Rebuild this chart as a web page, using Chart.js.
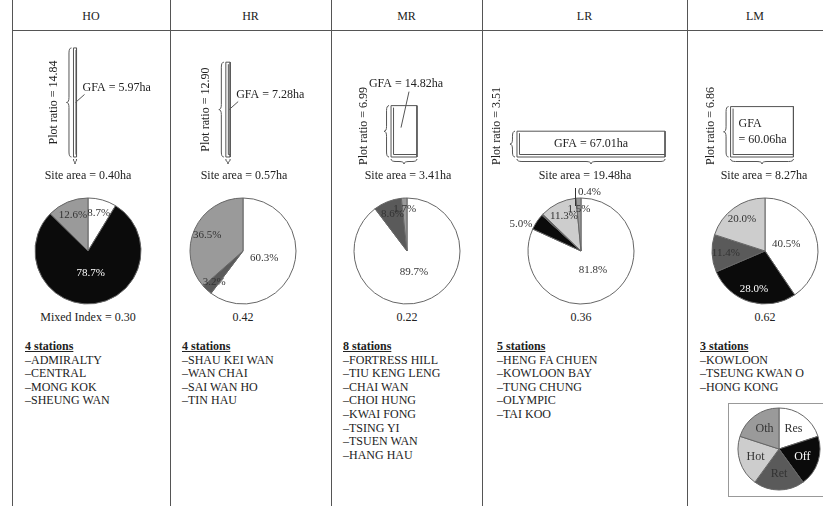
<!DOCTYPE html>
<html><head><meta charset="utf-8">
<script src="https://cdn.jsdelivr.net/npm/chart.js@4/dist/chart.umd.min.js"></script>
<style>
html,body{margin:0;padding:0;background:#fff;}
#page{position:relative;width:823px;height:506px;overflow:hidden;font-family:'Liberation Serif','Times New Roman',serif;color:#222;background:#fff;}
.vline{position:absolute;top:0;width:1px;height:506px;background:#555;}
.hline{position:absolute;left:12px;right:0;top:30px;height:1px;background:#555;}
.hdr{position:absolute;top:9px;width:120px;margin-left:-60px;text-align:center;font-size:12px;}
.idx{position:absolute;top:310px;width:160px;margin-left:-80px;text-align:center;font-size:12px;}
.list{position:absolute;top:340px;font-size:12px;line-height:13.6px;white-space:nowrap;}
.list .n{font-weight:bold;text-decoration:underline;}
canvas{position:absolute;}
.legbox{position:absolute;left:728px;top:403px;width:120px;height:92px;border:1px solid #999;}
</style></head><body><div id="page"></div>
<script>
// ---------- data ----------
const groups = ['HO','HR','MR','LR','LM'];
const plotRatio = [14.84, 12.90, 6.99, 3.51, 6.86];
const gfa = [5.97, 7.28, 14.82, 67.01, 60.06];
const siteArea = [0.40, 0.57, 3.41, 19.48, 8.27];
const mixedIndex = [0.30, 0.42, 0.22, 0.36, 0.62];
const useTypes = ['Res','Off','Ret','Hot','Oth'];
const resShare = [8.7, 60.3, 89.7, 81.8, 40.5];
const offShare = [78.7, 0, 0, 5.0, 28.0];
const retShare = [0, 3.2, 8.6, 0.4, 11.4];
const hotShare = [0, 0, 0, 11.3, 20.0];
const othShare = [12.6, 36.5, 1.7, 1.5, 0];
const legendShares = [20, 20, 20, 20, 20];
const stationsHO = ['ADMIRALTY','CENTRAL','MONG KOK','SHEUNG WAN'];
const stationsHR = ['SHAU KEI WAN','WAN CHAI','SAI WAN HO','TIN HAU'];
const stationsMR = ['FORTRESS HILL','TIU KENG LENG','CHAI WAN','CHOI HUNG','KWAI FONG','TSING YI','TSUEN WAN','HANG HAU'];
const stationsLR = ['HENG FA CHUEN','KOWLOON BAY','TUNG CHUNG','OLYMPIC','TAI KOO'];
const stationsLM = ['KOWLOON','TSEUNG KWAN O','HONG KONG'];
const stationLists = [stationsHO, stationsHR, stationsMR, stationsLR, stationsLM];

// ---------- layout / style ----------
const COLX = [12, 170, 331, 482, 687, 823];
const DIAG_CX = [75, 228, 404, 591, 762];
const SITE_CX = [88, 244, 408, 585, 764];
const PIE_CX = [88, 243, 407, 581, 765];
const PIE_CY = 251, PIE_R = 53;
const LIST_X = [25, 182, 343, 497, 700];
const USE_COLORS = ['#ffffff', '#0b0b0b', '#5a5a5a', '#cdcdcd', '#9a9a9a'];
const PX_HA = 7.6, PX_PR = 7.35, BASE = 157, DTOP = 31, DH = 170;
const FONT = '12px "Liberation Serif", serif';
const page = document.getElementById('page');

function el(cls, css, html){ const d=document.createElement('div'); d.className=cls; Object.assign(d.style, css); if(html!==undefined) d.innerHTML=html; page.appendChild(d); return d; }
function mkCanvas(l,t,w,h){ const c=document.createElement('canvas'); c.width=w; c.height=h; c.style.left=l+'px'; c.style.top=t+'px'; c.style.width=w+'px'; c.style.height=h+'px'; page.appendChild(c); return c; }

COLX.slice(0,5).forEach(x=>el('vline',{left:x+'px'}));
el('hline',{});
groups.forEach((g,i)=>{
  el('hdr',{left:((COLX[i]+COLX[i+1])/2)+'px'}, g);
  el('idx',{left:PIE_CX[i]+'px'}, (i===0?'Mixed Index = ':'') + mixedIndex[i].toFixed(2));
  const L = stationLists[i];
  el('list',{left:LIST_X[i]+'px'}, '<span class="n">'+L.length+' stations</span><br>' + L.map(s=>'–'+s).join('<br>'));
});
el('legbox',{});

function vBrace(ctx, x, y1, y2, d){
  const ym=(y1+y2)/2, h=d/2, k=Math.min(d,(ym-y1)/2);
  ctx.beginPath();
  ctx.moveTo(x, y1);
  ctx.quadraticCurveTo(x-h, y1, x-h, y1+k);
  ctx.lineTo(x-h, ym-k);
  ctx.quadraticCurveTo(x-h, ym, x-d, ym);
  ctx.quadraticCurveTo(x-h, ym, x-h, ym+k);
  ctx.lineTo(x-h, y2-k);
  ctx.quadraticCurveTo(x-h, y2, x, y2);
  ctx.stroke();
}
function hBrace(ctx, x1, x2, y, d){
  const xm=(x1+x2)/2, h=d/2, k=Math.min(d,(xm-x1)/2);
  ctx.beginPath();
  ctx.moveTo(x1, y);
  ctx.quadraticCurveTo(x1, y+h, x1+k, y+h);
  ctx.lineTo(xm-k, y+h);
  ctx.quadraticCurveTo(xm, y+h, xm, y+d);
  ctx.quadraticCurveTo(xm, y+h, xm+k, y+h);
  ctx.lineTo(x2-k, y+h);
  ctx.quadraticCurveTo(x2, y+h, x2, y);
  ctx.stroke();
}

const diagPlugin = {
  id:'diag',
  afterDatasetsDraw(chart, args, o){
    const i=o.i, ctx=chart.ctx, X=chart.scales.x, Y=chart.scales.y;
    const s=siteArea[i], p=plotRatio[i];
    const L=X.getPixelForValue(-s/2), R=X.getPixelForValue(s/2);
    const T=Y.getPixelForValue(p), B=Y.getPixelForValue(0);
    ctx.save();
    ctx.strokeStyle='#555'; ctx.lineWidth=1;
    // depth lines
    ctx.beginPath(); ctx.moveTo(L+2.5, T+2); ctx.lineTo(L+2.5, B-2.5); ctx.lineTo(R, B-2.5); ctx.stroke();
    vBrace(ctx, L-2, T, B, 5);
    hBrace(ctx, L, R, B+2, 5);
    ctx.font=FONT; ctx.fillStyle='#222'; ctx.textBaseline='middle';
    const gtxt='GFA = '+gfa[i].toFixed(2)+'ha';
    const w=R-L, gw=ctx.measureText(gtxt).width;
    const aboveMode = (w<=gw+10 && w<=50 && w>15);
    const ptxt='Plot ratio = '+p.toFixed(2);
    const tl=ctx.measureText(ptxt).width;
    const cy=Math.min((T+B)/2, B+8-tl/2);
    ctx.save(); ctx.translate(L-2-5-13-(aboveMode?7:0), cy); ctx.rotate(-Math.PI/2); ctx.textAlign='center'; ctx.fillText(ptxt,0,0); ctx.restore();
    if (w>gw+10){
      ctx.textAlign='center'; ctx.fillText(gtxt,(L+R)/2,(T+B)/2);
    } else if (w>50){
      ctx.textAlign='left';
      ctx.fillText('GFA', L+8, (T+B)/2-8);
      ctx.fillText('= '+gfa[i].toFixed(2)+'ha', L+8, (T+B)/2+8);
    } else if (aboveMode){
      ctx.textAlign='center'; ctx.fillText(gtxt,(L+R)/2+2, T-22);
      ctx.beginPath(); ctx.moveTo((L+R)/2+5, T-14); ctx.lineTo((L+R)/2-3, T+22); ctx.stroke();
    } else {
      ctx.textAlign='left'; const ty=(T+B)/2-15;
      ctx.fillText(gtxt, R+6, ty);
      ctx.beginPath(); ctx.moveTo(R+8, ty+7); ctx.lineTo(R-1, ty+15); ctx.stroke();
    }
    ctx.textAlign='center';
    ctx.fillText('Site area = '+s.toFixed(2)+'ha', o.siteX, 176-DTOP);
    ctx.restore();
  }
};

groups.forEach((g,i)=>{
  const left=COLX[i]+1, w=COLX[i+1]-COLX[i]-1;
  const cv=mkCanvas(left, DTOP, w, DH);
  const cx=DIAG_CX[i]-left;
  const s=siteArea[i], p=plotRatio[i];
  new Chart(cv,{
    type:'scatter',
    data:{datasets:[{data:[{x:-s/2,y:0},{x:-s/2,y:p},{x:s/2,y:p},{x:s/2,y:0},{x:-s/2,y:0}],
      showLine:true, borderColor:'#555', borderWidth:1, pointRadius:0, fill:false, tension:0}]},
    options:{responsive:false, animation:false, devicePixelRatio:1, events:[],
      layout:{padding:0},
      scales:{x:{type:'linear',display:false,min:-cx/PX_HA,max:(w-cx)/PX_HA},
              y:{type:'linear',display:false,min:-(DTOP+DH-BASE)/PX_PR,max:(BASE-DTOP)/PX_PR}},
      plugins:{legend:{display:false},tooltip:{enabled:false},diag:{i, siteX:SITE_CX[i]-left}}},
    plugins:[diagPlugin]
  });
});

const pctPlugin = {
  id:'pct',
  afterDatasetsDraw(chart, args, o){
    const ctx=chart.ctx, meta=chart.getDatasetMeta(0), vals=chart.data.datasets[0].data;
    ctx.save(); ctx.font=o.font; ctx.textBaseline='middle';
    meta.data.forEach((arc,k)=>{
      const v=vals[k]; if(!v) return;
      const p=arc.getProps(['x','y','startAngle','endAngle','outerRadius'], true);
      const mid=(p.startAngle+p.endAngle)/2, r=p.outerRadius;
      const cs=Math.cos(mid), sn=Math.sin(mid);
      const txt=o.names ? chart.data.labels[k] : v.toFixed(1)+'%';
      let f=o.names ? 0.6 : v>=40?0.42 : v>=8?0.74 : v>=4?1.1 : 0.8;
      let align='center', x=p.x+cs*r*f, y=p.y+sn*r*f, inside=f<1;
      if(!o.names){
        if(v>=4 && v<8){ align=cs<0?'right':'left'; y+=5; }
        else if(v<1){
          x=p.x-3; y=p.y-r-6; align='left'; inside=false;
          ctx.strokeStyle='#333'; ctx.lineWidth=1;
          ctx.beginPath(); ctx.moveTo(p.x-5.5, y-4); ctx.lineTo(p.x-5.5, p.y-r+8); ctx.stroke();
        } else if(v<4 && Math.abs(mid+Math.PI/2)<0.4){ align='left'; x=p.x+3; }
      }
      ctx.textAlign=align;
      ctx.fillStyle=(k===1 && inside)?'#fff':'#333';
      ctx.fillText(txt,x,y);
    });
    ctx.restore();
  }
};

function makePie(cx, cy, r, values, opts){
  const W=200, H=2*r+24;
  const cv=mkCanvas(cx-W/2, cy-H/2, W, H);
  new Chart(cv,{
    type:'pie',
    data:{labels:useTypes, datasets:[{data:values, backgroundColor:USE_COLORS, borderColor:'#666', borderWidth:1, radius:r}]},
    options:{responsive:false, animation:false, devicePixelRatio:1, events:[],
      layout:{padding:0},
      plugins:{legend:{display:false},tooltip:{enabled:false},pct:opts}},
    plugins:[pctPlugin]
  });
}
groups.forEach((g,i)=>{
  makePie(PIE_CX[i], PIE_CY, PIE_R, [resShare[i], offShare[i], retShare[i], hotShare[i], othShare[i]], {font:'11px "Liberation Serif", serif'});
});
makePie(779, 449, 41, legendShares, {font:'12px "Liberation Serif", serif', names:true});
</script></body></html>
